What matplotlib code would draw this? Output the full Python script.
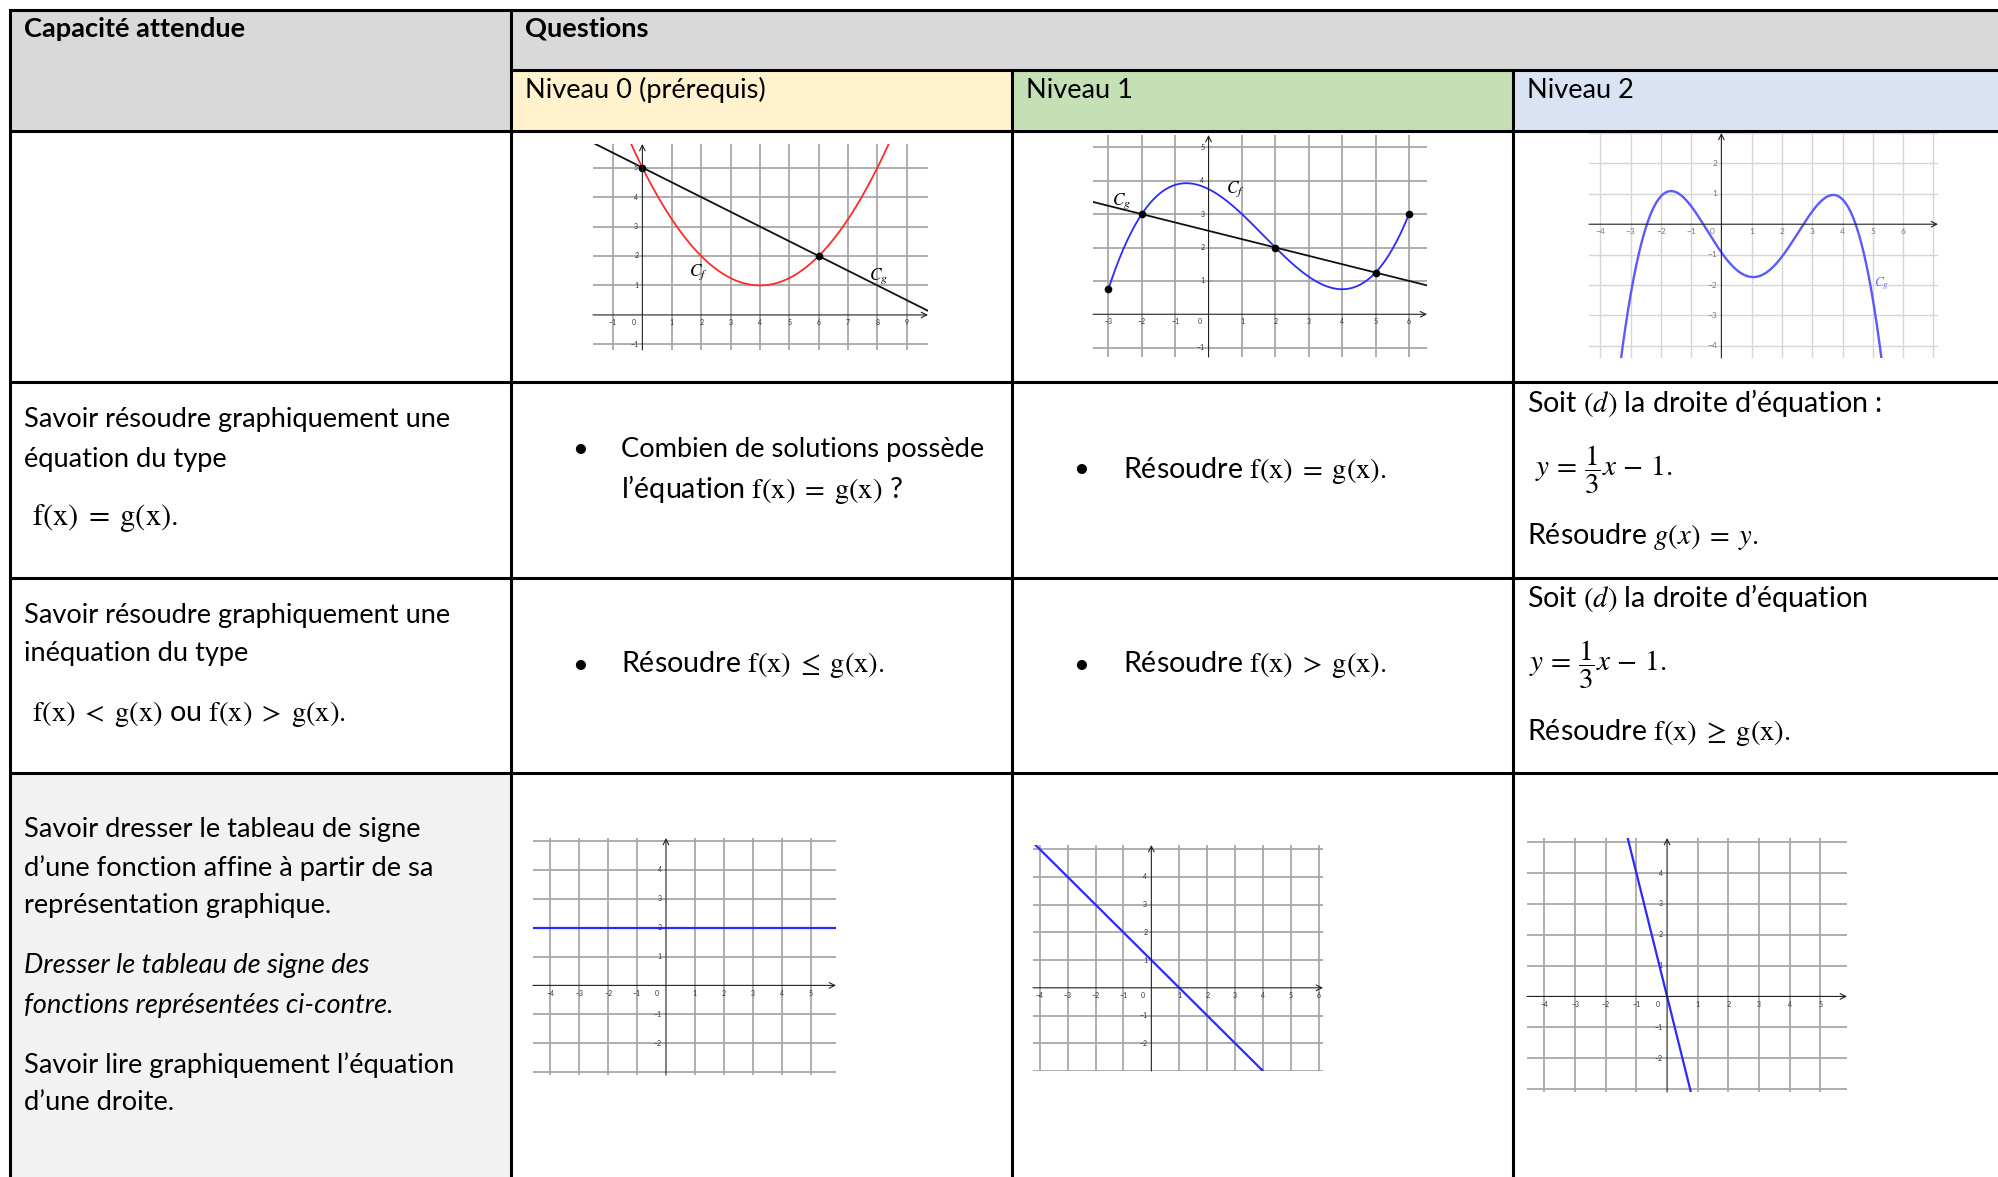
import numpy as np
import matplotlib.pyplot as plt
from matplotlib.patches import Rectangle

plt.rcParams['font.family'] = ['Lato', 'DejaVu Sans']
plt.rcParams['mathtext.fontset'] = 'stix'

# --- contenu du tableau ---
header_left = "Capacité attendue"
header_right = "Questions"
levels = ["Niveau 0 (prérequis)", "Niveau 1", "Niveau 2"]
level_colors = ["#fff2cc", "#c5e0b4", "#dae3f3"]

# graphe 1 (niveau 0) : parabole Cf et droite Cg
g1_cf_x = [0, 2, 4, 6, 8]
g1_cf_y = [5, 2, 1, 2, 5]
g1_cg = [(0, 5), (6, 2)]
g1_dots_x = [0, 6]
g1_dots_y = [5, 2]

# graphe 2 (niveau 1) : cubique Cf sur [-3 ; 6] et droite Cg
g2_cf_x = [-3, -2, 2, 5, 6]
g2_cf_y = [0.75, 3, 2, 1.25, 3]
g2_cg = [(-2, 3), (2, 2)]
g2_dots_x = [-3, -2, 2, 5, 6]
g2_dots_y = [0.75, 3, 2, 1.25, 3]

# graphe 3 (niveau 2) : courbe Cg
g3_x = [-3.33, -3.0, -2.53, -1.8, -0.61, 0, 1, 2.72, 3.7, 4.44, 4.92, 5.28]
g3_y = [-4.4, -2.66, 0, 1.05, 0, -1, -1.65, 0, 0.93, 0, -2.0, -4.4]

# droites du bas
d4 = [(0, 2), (1, 2)]
d5 = [(0, 1), (1, 0)]
d6 = [(0, 0), (-1, 4)]

W, H = 1999, 1177
fig = plt.figure(figsize=(W / 100, H / 100), dpi=100)
bg = fig.add_axes([0, 0, 1, 1])
bg.set_xlim(0, W)
bg.set_ylim(H, 0)
bg.axis('off')

cx = [10, 511, 1012, 1513, 2010]
ry = [10, 70, 131, 382, 578, 773, 1190]

# fonds
bg.add_patch(Rectangle((cx[0], ry[0]), cx[1] - cx[0], ry[2] - ry[0], color="#d9d9d9", lw=0))
bg.add_patch(Rectangle((cx[1], ry[0]), cx[4] - cx[1], ry[1] - ry[0], color="#d9d9d9", lw=0))
for i in range(3):
    bg.add_patch(Rectangle((cx[i + 1], ry[1]), cx[i + 2] - cx[i + 1], ry[2] - ry[1],
                           color=level_colors[i], lw=0))
bg.add_patch(Rectangle((cx[0], ry[5]), cx[1] - cx[0], ry[6] - ry[5], color="#f2f2f2", lw=0))

# bordures
lw = 2.2
for y in [ry[0], ry[2], ry[3], ry[4], ry[5]]:
    bg.plot([cx[0], cx[4]], [y, y], color='k', lw=lw, solid_capstyle='butt')
bg.plot([cx[1], cx[4]], [ry[1], ry[1]], color='k', lw=lw)
for x in [cx[0], cx[1]]:
    bg.plot([x, x], [ry[0], ry[6]], color='k', lw=lw)
for x in [cx[2], cx[3]]:
    bg.plot([x, x], [ry[1], ry[6]], color='k', lw=lw)

fs = 19.6      # texte
fm = 20.6      # lignes avec formules
fe = 22        # formules seules
ff = 21        # formule avec fraction

bg.text(24, 29, header_left, fontsize=fs, fontweight='bold', va='center')
bg.text(525, 29, header_right, fontsize=fs, fontweight='bold', va='center')
for i, lab in enumerate(levels):
    bg.text(cx[i + 1] + 14, 90, lab, fontsize=fs, va='center')

# ligne 2
bg.text(24, 419, "Savoir résoudre graphiquement une", fontsize=fs, va='center')
bg.text(24, 459, "équation du type", fontsize=fs, va='center')
bg.text(32, 518, r"$\mathrm{f(x)\;=\;g(x).}$", fontsize=fe, va='center')
bg.text(580, 450, "•", fontsize=fs, va='center', ha='center')
bg.text(621, 450, "Combien de solutions possède", fontsize=fs, va='center')
bg.text(621, 490, r"l’équation $\mathrm{f(x)\;=\;g(x)}$ ?", fontsize=fm, va='center')
bg.text(1081, 470, "•", fontsize=fs, va='center', ha='center')
bg.text(1123, 470, r"Résoudre $\mathrm{f(x)\;=\;g(x).}$", fontsize=fm, va='center')
bg.text(1527, 403, r"Soit $(d)$ la droite d’équation :", fontsize=fm, va='center')
bg.text(1535, 470, r"$y\,=\,\dfrac{1}{3}x\,-\,1.$", fontsize=ff, va='center')
bg.text(1527, 537, r"Résoudre $g(x)\;=\;y.$", fontsize=fm, va='center')

# ligne 3
bg.text(24, 616, "Savoir résoudre graphiquement une", fontsize=fs, va='center')
bg.text(24, 653, "inéquation du type", fontsize=fs, va='center')
bg.text(32, 714, r"$\mathrm{f(x)\;<\;g(x)}$ ou $\mathrm{f(x)\;>\;g(x).}$", fontsize=fm, va='center')
bg.text(580, 665, "•", fontsize=fs, va='center', ha='center')
bg.text(621, 665, r"Résoudre $\mathrm{f(x)\;\leq\;g(x).}$", fontsize=fm, va='center')
bg.text(1081, 665, "•", fontsize=fs, va='center', ha='center')
bg.text(1123, 665, r"Résoudre $\mathrm{f(x)\;>\;g(x).}$", fontsize=fm, va='center')
bg.text(1527, 598, r"Soit $(d)$ la droite d’équation", fontsize=fm, va='center')
bg.text(1529, 665, r"$y\,=\,\dfrac{1}{3}x\,-\,1.$", fontsize=ff, va='center')
bg.text(1527, 732, r"Résoudre $\mathrm{f(x)\;\geq\;g(x).}$", fontsize=fm, va='center')

# ligne 4
bg.text(24, 829, "Savoir dresser le tableau de signe", fontsize=fs, va='center')
bg.text(24, 868, "d’une fonction affine à partir de sa", fontsize=fs, va='center')
bg.text(24, 906, "représentation graphique.", fontsize=fs, va='center')
bg.text(24, 965, "Dresser le tableau de signe des", fontsize=fs, va='center', style='italic')
bg.text(24, 1005, "fonctions représentées ci-contre.", fontsize=fs, va='center', style='italic')
bg.text(24, 1065, "Savoir lire graphiquement l’équation", fontsize=fs, va='center')
bg.text(24, 1103, "d’une droite.", fontsize=fs, va='center')


def repere(px, xlim, ylim, xlabs, ylabs, gcol="#a8a8a8", tcol="#333333", tfs=5, glw=1.3):
    x0, y0, x1, y1 = px
    ax = fig.add_axes([x0 / W, 1 - y1 / H, (x1 - x0) / W, (y1 - y0) / H])
    ax.set_xlim(xlim)
    ax.set_ylim(ylim)
    ax.axis('off')
    for k in range(int(np.ceil(xlim[0])), int(np.floor(xlim[1])) + 1):
        if k != 0:
            ax.axvline(k, color=gcol, lw=glw, zorder=0)
    for k in range(int(np.ceil(ylim[0])), int(np.floor(ylim[1])) + 1):
        if k != 0:
            ax.axhline(k, color=gcol, lw=glw, zorder=0)
    ax.annotate('', xy=(xlim[1], 0), xytext=(xlim[0], 0),
                arrowprops=dict(arrowstyle='->', lw=0.8, color='#222222', shrinkA=0, shrinkB=0))
    ax.annotate('', xy=(0, ylim[1]), xytext=(0, ylim[0]),
                arrowprops=dict(arrowstyle='->', lw=0.8, color='#222222', shrinkA=0, shrinkB=0))
    for k in xlabs:
        if k == 0:
            ax.annotate("0", xy=(0, 0), xytext=(-5, -3), textcoords='offset points',
                        ha='right', va='top', fontsize=tfs, color=tcol)
        else:
            ax.annotate(str(k).replace('-', '−'), xy=(k, 0), xytext=(0, -3), textcoords='offset points',
                        ha='center', va='top', fontsize=tfs, color=tcol)
    for k in ylabs:
        ax.annotate(str(k).replace('-', '−'), xy=(0, k), xytext=(-3, 0), textcoords='offset points',
                    ha='right', va='center', fontsize=tfs, color=tcol)
    return ax


# graphe 1
ax1 = repere((593, 144, 928, 350), (-1.68, 9.72), (-1.19, 5.8),
             range(-1, 10), [-1, 1, 2, 3, 4, 5])
xs = np.linspace(-1.68, 9.72, 400)
ax1.plot(xs, np.polyval(np.polyfit(g1_cf_x, g1_cf_y, 2), xs), color='#ff2a2a', lw=1.3)
ax1.axline(g1_cg[0], g1_cg[1], color='#111111', lw=1.3)
ax1.plot(g1_dots_x, g1_dots_y, 'o', color='k', ms=4.5)
ax1.text(1.9, 1.45, r"$C_f$", fontsize=12.5, ha='center', va='center')
ax1.text(8.05, 1.3, r"$C_g$", fontsize=12.5, ha='center', va='center')

# graphe 2
ax2 = repere((1093, 135, 1427, 357), (-3.46, 6.54), (-1.28, 5.37),
             range(-3, 7), [-1, 1, 2, 3, 4, 5])
xs = np.linspace(-3, 6, 400)
ax2.plot(xs, np.polyval(np.polyfit(g2_cf_x, g2_cf_y, 3), xs), color='#2a2aff', lw=1.3)
ax2.axline(g2_cg[0], g2_cg[1], color='#111111', lw=1.3)
ax2.plot(g2_dots_x, g2_dots_y, 'o', color='k', ms=4.5)
ax2.text(0.8, 3.75, r"$C_f$", fontsize=12.5, ha='center', va='center')
ax2.text(-2.6, 3.4, r"$C_g$", fontsize=12.5, ha='center', va='center')

# graphe 3
ax3 = repere((1589, 133, 1938, 358), (-4.37, 7.15), (-4.4, 3.0),
             range(-4, 7), [-4, -3, -2, -1, 1, 2], gcol="#d6d6d6", tcol="#777777", tfs=6, glw=1.0)
xs = np.linspace(-4.37, 7.15, 400)
ax3.plot(xs, np.polyval(np.polyfit(g3_x, g3_y, 6), xs), color='#5a5aff', lw=1.7)
ax3.text(5.3, -1.95, r"$C_g$", fontsize=9.5, color='#6a6aff', ha='center', va='center')

# graphes du bas
ax4 = repere((533, 838, 836, 1075), (-4.59, 5.87), (-3.1, 5.1),
             range(-4, 6), [-2, -1, 1, 2, 3, 4])
ax4.axline(d4[0], d4[1], color='#2a2aff', lw=1.6)

ax5 = repere((1033, 845, 1323, 1071), (-4.24, 6.15), (-3.0, 5.15),
             range(-4, 7), [-2, -1, 1, 2, 3, 4])
ax5.axline(d5[0], d5[1], color='#2a2aff', lw=1.6)

ax6 = repere((1527, 838, 1847, 1092), (-4.57, 5.87), (-3.1, 5.14),
             range(-4, 6), [-2, -1, 1, 2, 3, 4])
ax6.axline(d6[0], d6[1], color='#2a2aff', lw=1.6)

fig.savefig("out.png", dpi=100)
